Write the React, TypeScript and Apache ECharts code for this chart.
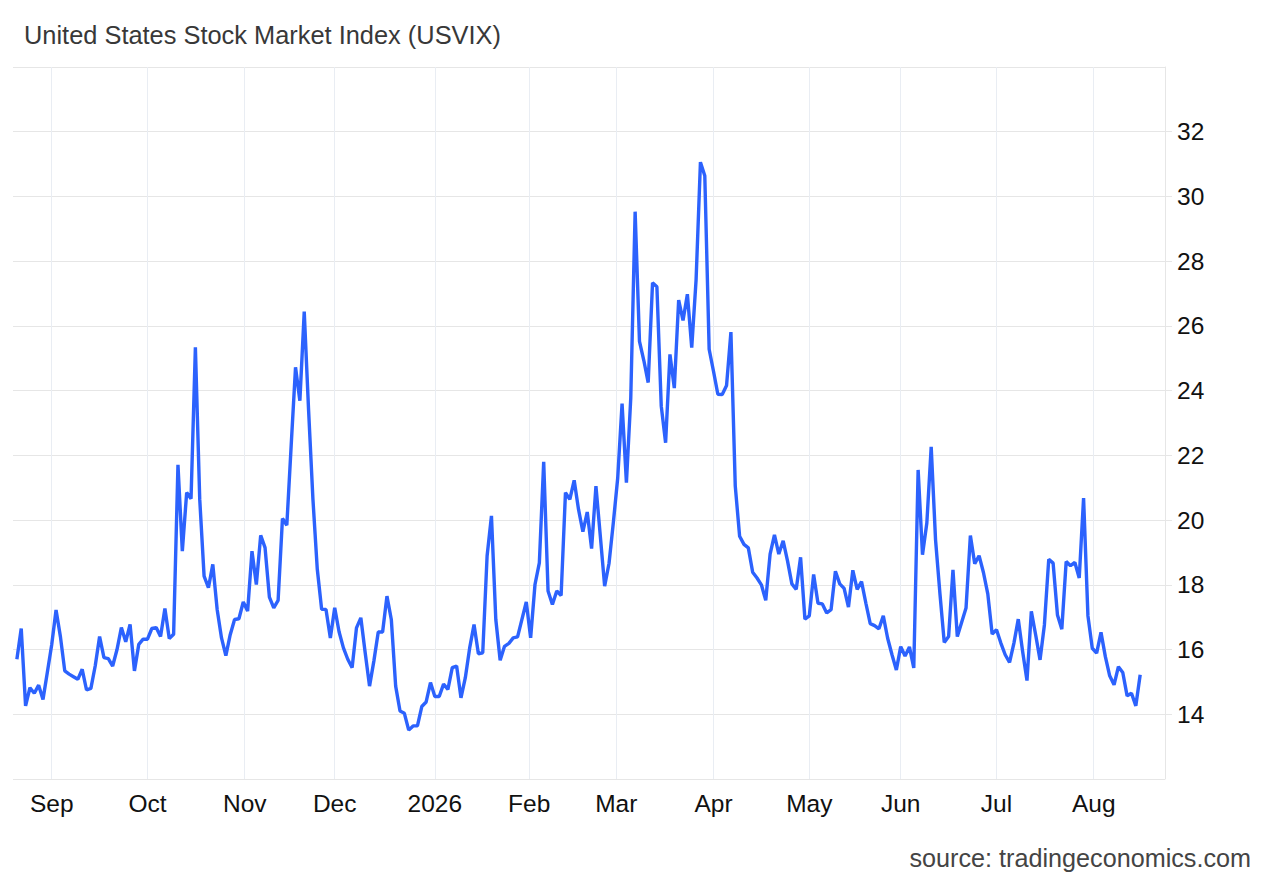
import React, { useEffect, useRef } from "react";
import * as echarts from "echarts";

const TITLE = "United States Stock Market Index (USVIX)";
const SOURCE = "source: tradingeconomics.com";

// Daily (weekday) closes, one array per month
const aug2025 = [15.7, 16.65, 14.26, 14.82, 14.65, 14.9, 14.46, 15.3];
const sep2025 = [16.15, 17.22, 16.4, 15.34, 15.24, 15.16, 15.08, 15.39, 14.75, 14.8, 15.5, 16.4, 15.75, 15.72, 15.49, 16.0, 16.68, 16.24, 16.78, 15.34, 16.16, 16.32];
const oct2025 = [16.32, 16.65, 16.68, 16.4, 17.27, 16.34, 16.47, 21.71, 19.04, 20.85, 20.66, 25.34, 20.64, 18.27, 17.91, 18.63, 17.24, 16.36, 15.81, 16.46, 16.93, 16.95, 17.47];
const nov2025 = [17.19, 19.04, 18.01, 19.53, 19.15, 17.62, 17.29, 17.52, 20.05, 19.84, 22.3, 24.72, 23.69, 26.44, 23.4, 20.64, 18.48, 17.24, 17.24, 16.36];
const dec2025 = [17.29, 16.55, 16.05, 15.7, 15.44, 16.67, 16.98, 15.9, 14.87, 15.65, 16.54, 16.54, 17.65, 16.93, 14.87, 14.1, 14.03, 13.51, 13.64, 13.64, 14.24, 14.38, 14.98];
const jan2026 = [14.55, 14.55, 14.93, 14.77, 15.44, 15.49, 14.51, 15.13, 16.05, 16.77, 15.87, 15.9, 18.89, 20.13, 16.93, 15.67, 16.1, 16.19, 16.36, 16.39, 16.93, 17.47];
const feb2026 = [16.36, 18.01, 18.68, 21.8, 17.81, 17.39, 17.81, 17.67, 20.85, 20.64, 21.23, 20.33, 19.64, 20.25, 19.12, 21.05, 19.51, 17.96, 18.66, 19.93];
const mar2026 = [21.3, 23.6, 21.16, 23.78, 29.53, 25.52, 24.93, 24.25, 27.33, 27.21, 23.52, 22.39, 25.12, 24.08, 26.8, 26.17, 26.98, 25.33, 27.42, 31.06, 30.64, 25.28];
const apr2026 = [24.6, 23.89, 23.88, 24.16, 25.81, 21.05, 19.5, 19.25, 19.14, 18.39, 18.21, 18.0, 17.52, 18.95, 19.54, 18.95, 19.36, 18.74, 18.03, 17.86, 18.85, 16.94];
const may2026 = [17.04, 18.32, 17.43, 17.41, 17.13, 17.23, 18.42, 18.03, 17.89, 17.31, 18.45, 17.86, 18.1, 17.43, 16.8, 16.74, 16.64, 17.04, 16.35, 15.84, 15.37];
const jun2026 = [16.09, 15.8, 16.08, 15.43, 21.55, 18.93, 19.91, 22.26, 19.39, 17.74, 16.22, 16.4, 18.46, 16.4, 16.84, 17.28, 19.52, 18.65, 18.9, 18.38, 17.72, 16.48];
const jul2026 = [16.61, 16.2, 15.84, 15.6, 16.2, 16.94, 15.94, 15.04, 17.18, 16.45, 15.68, 16.76, 18.79, 18.67, 17.07, 16.63, 18.72, 18.59, 18.69, 18.21, 20.68, 17.04, 16.04];
const aug2026 = [15.89, 16.53, 15.78, 15.19, 14.91, 15.47, 15.29, 14.57, 14.65, 14.26, 15.22];

const START_DATE = "2025-08-20";
const END_DATE = "2026-08-17";

const MONTH_STARTS = ["2025-09-01", "2025-10-01", "2025-11-01", "2025-12-01", "2026-01-01", "2026-02-01", "2026-03-01", "2026-04-01", "2026-05-01", "2026-06-01", "2026-07-01", "2026-08-01"];
const MONTH_LABELS = ["Sep", "Oct", "Nov", "Dec", "2026", "Feb", "Mar", "Apr", "May", "Jun", "Jul", "Aug"];

const Y_MIN = 12;
const Y_MAX = 34;
const Y_STEP = 2;

const FONT = "'Liberation Sans', Arial, Helvetica, sans-serif";

function parseUTC(s: string): number {
  const [y, m, d] = s.split("-").map(Number);
  return Date.UTC(y, m - 1, d);
}

export default function App() {
  const ref = useRef<HTMLDivElement>(null);

  useEffect(() => {
    if (!ref.current) return;
    const chart = echarts.init(ref.current, null, { renderer: "svg" });

    const values = [
      ...aug2025, ...sep2025, ...oct2025, ...nov2025, ...dec2025, ...jan2026,
      ...feb2026, ...mar2026, ...apr2026, ...may2026, ...jun2026, ...jul2026, ...aug2026,
    ];

    // trading (weekday) dates
    const DAY = 86400000;
    const dates: number[] = [];
    for (let t = parseUTC(START_DATE); t <= parseUTC(END_DATE); t += DAY) {
      const wd = new Date(t).getUTCDay();
      if (wd !== 0 && wd !== 6) dates.push(t);
    }

    const data = values.map((v, i) => [i, v]);

    // ordinal positions of month starts
    const tickPos: number[] = MONTH_STARTS.map((s) => {
      const ms = parseUTC(s);
      let i = dates.findIndex((t) => t >= ms);
      if (i < 0) i = dates.length - 1;
      if (dates[i] === ms || i === 0) return i;
      return i - 1 + (ms - dates[i - 1]) / (dates[i] - dates[i - 1]);
    });
    const labelFor = (v: number) => {
      let best = 0;
      for (let k = 1; k < tickPos.length; k++) {
        if (Math.abs(tickPos[k] - v) < Math.abs(tickPos[best] - v)) best = k;
      }
      return MONTH_LABELS[best];
    };

    const option: any = {
      animation: false,
      backgroundColor: "#ffffff",
      textStyle: { fontFamily: FONT },
      grid: { left: 13, right: 104, top: 67, bottom: 101, containLabel: false, outerBoundsMode: "none" },
      graphic: [
        {
          type: "text",
          left: 24,
          top: 22,
          style: { text: TITLE, fontSize: 25.4, fontFamily: FONT, fill: "#383838" },
        },
        {
          type: "text",
          right: 18,
          top: 845,
          style: { text: SOURCE, fontSize: 25.2, fontFamily: FONT, fill: "#444444" },
        },
      ],
      xAxis: {
        type: "value",
        min: -0.89,
        max: 263.7,
        axisLine: { show: false },
        axisTick: { show: false, customValues: tickPos },
        axisLabel: {
          customValues: tickPos,
          formatter: (v: number) => labelFor(v),
          fontSize: 24.5,
          color: "#111111",
          fontFamily: FONT,
          margin: 12,
        },
        splitLine: { show: true, lineStyle: { color: "#e9edf3", width: 1 } },
      },
      yAxis: {
        type: "value",
        position: "right",
        min: Y_MIN,
        max: Y_MAX,
        interval: Y_STEP,
        axisLine: { show: true, onZero: false, lineStyle: { color: "#e6e6e6", width: 1 } },
        axisTick: { show: true, length: 7, lineStyle: { color: "#e6e6e6" } },
        axisLabel: {
          fontSize: 24.5,
          color: "#111111",
          fontFamily: FONT,
          margin: 12,
          showMinLabel: false,
          showMaxLabel: false,
          formatter: (v: number) => (v === Y_MIN || v === Y_MAX ? "" : String(v)),
        },
        splitLine: { show: true, lineStyle: { color: "#e6e6e6", width: 1 } },
      },
      series: [
        {
          type: "line",
          data,
          showSymbol: false,
          symbol: "none",
          lineStyle: { color: "#2c62fd", width: 3.4 },
          itemStyle: { color: "#2c62fd" },
          clip: true,
        },
      ],
    };

    chart.setOption(option);
    return () => chart.dispose();
  }, []);

  return (
    <div
      ref={ref}
      style={{ position: "fixed", left: 0, top: 0, width: 1269, height: 880, background: "#ffffff" }}
    />
  );
}
